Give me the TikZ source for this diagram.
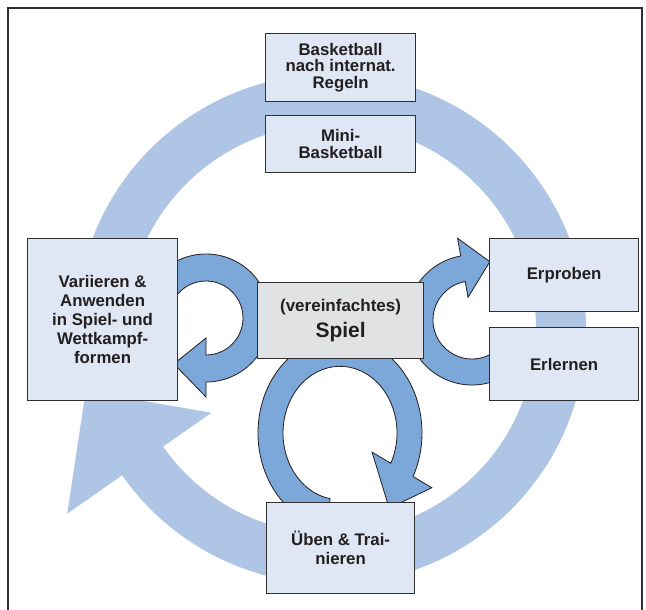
\documentclass[tikz,border=0pt]{standalone}
\usepackage{fontspec}
\setmainfont{Liberation Sans}
\definecolor{ringc}{HTML}{AFC5E6}
\definecolor{arrc}{HTML}{7BA7D9}
\definecolor{boxc}{HTML}{DFE6F4}
\definecolor{midc}{HTML}{E1E2E4}
\definecolor{edgec}{HTML}{2F2F2F}
\definecolor{txtc}{HTML}{231F20}
\begin{document}
\begin{tikzpicture}[x=1pt,y=-1pt,
  box/.style={draw=edgec, line width=1.2pt, fill=boxc, inner sep=0pt, align=center,
    text=txtc, anchor=north west},
  bfont/.style={font=\fontsize{16.8}{#1}\selectfont\bfseries},
  carrow/.style={fill=arrc, draw=txtc, line width=0.8pt, line join=miter},
  frameline/.style={draw=edgec, line width=1.4pt}
]
\useasboundingbox (0,0) rectangle (646,610);
\fill[white] (0,0) rectangle (646,610);
% frame
\coordinate (f1) at (8,610);
\coordinate (f2) at (8,8);
\coordinate (f3) at (642,8);
\coordinate (f4) at (642,610);
\draw[frameline] (f1) -- (f2) -- (f3) -- (f4);

% big cycle arrow
\begin{scope}[shift={(331,329)}]
  \fill[ringc] (185:255) arc[start angle=185, end angle=505, radius=255]
    -- (505:322) -- (525.8:253) -- (505:146) -- (505:205)
    arc[start angle=505, end angle=185, radius=205] -- cycle;
\end{scope}

% left small arrow
\begin{scope}[shift={(206,318)}]
  \filldraw[carrow] (180:64) arc[start angle=180, end angle=450, radius=64]
    -- (450:79) -- (485:56) -- (450:20) -- (450:37)
    arc[start angle=450, end angle=180, radius=37] -- cycle;
\end{scope}

% right small arrow
\begin{scope}[shift={(472,320)}]
  \filldraw[carrow] (60:65) arc[start angle=60, end angle=260, radius=65]
    -- (260:83) -- (287:61) -- (260:23) -- (260:39)
    arc[start angle=260, end angle=60, radius=39] -- cycle;
\end{scope}

% bottom small arrow
\begin{scope}[shift={(340,433)}, yscale=1.17]
  \filldraw[carrow] (-260:82) arc[start angle=-260, end angle=27, radius=82]
    -- (27:103) -- (52.6:81) -- (27:36) -- (27:57)
    arc[start angle=27, end angle=-260, radius=57] -- cycle;
\end{scope}

% boxes
\node[box, minimum width=150, minimum height=68, bfont=16.2] (regeln) at (265,33)
  {Basketball\\nach internat.\\Regeln};
\node[box, minimum width=150, minimum height=57, bfont=16.8] (mini) at (265,115)
  {Mini-\\Basketball};
\node[box, minimum width=150, minimum height=162, bfont=19] (variieren) at (27,238)
  {Variieren \&\\Anwenden\\in Spiel- und\\Wettkampf-\\formen};
\node[box, fill=midc, minimum width=166, minimum height=76,
  font=\fontsize{17}{26.6}\selectfont\bfseries] (spiel) at (257,282)
  {(vereinfachtes)\\{\fontsize{21}{26.6}\selectfont Spiel}};
\node[box, minimum width=149, minimum height=73, bfont=19] (erproben) at (489,238)
  {Erproben};
\node[box, minimum width=149, minimum height=73, bfont=19] (erlernen) at (489,327)
  {Erlernen};
\node[box, minimum width=148, minimum height=91, bfont=18.7] (ueben) at (266,502)
  {Üben \& Trai-\\nieren};
\end{tikzpicture}
\end{document}
